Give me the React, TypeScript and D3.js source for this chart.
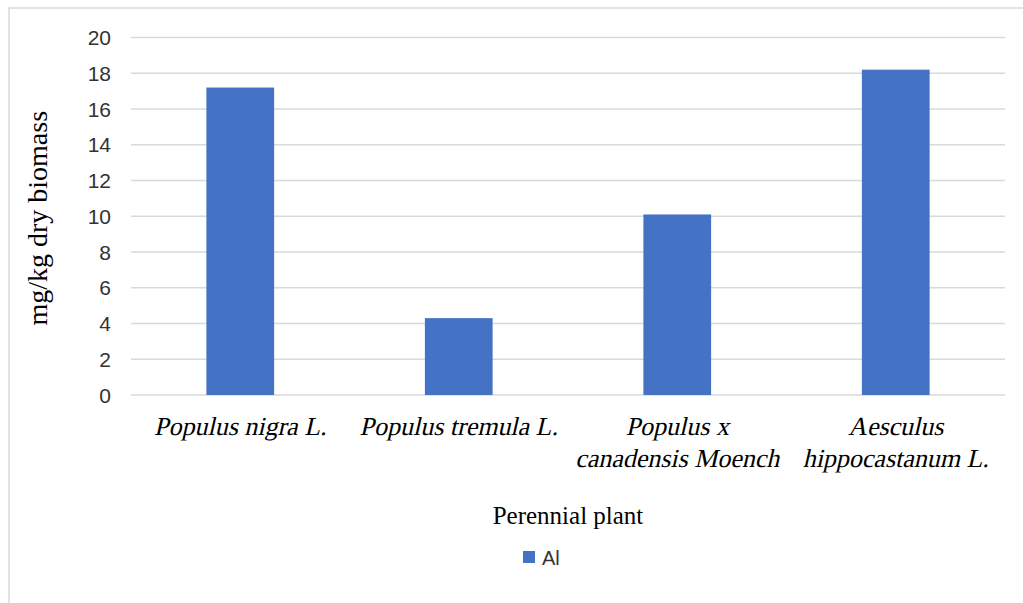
import React from 'react';
import * as d3 from 'd3';

const categories = [
  ['Populus nigra L.'],
  ['Populus tremula L.'],
  ['Populus x', 'canadensis Moench'],
  ['Aesculus', 'hippocastanum L.'],
];
const alValues = [17.2, 4.3, 10.1, 18.2];
const yTicks = [0, 2, 4, 6, 8, 10, 12, 14, 16, 18, 20];
const seriesName = 'Al';

const width = 1023;
const height = 603;
const margin = { top: 37.5, right: 18, bottom: 208, left: 131 };

const serif = "'Liberation Serif', 'Times New Roman', serif";
const sans = "'Liberation Sans', Arial, sans-serif";

const App: React.FC = () => {
  const x = d3.scaleBand<number>()
    .domain(d3.range(categories.length))
    .range([margin.left, width - margin.right])
    .paddingInner(0.69)
    .paddingOuter(0.345);

  const y = d3.scaleLinear()
    .domain([0, 20])
    .range([height - margin.bottom, margin.top]);

  const barColor = '#4472C4';
  const band = x.step();

  return (
    <svg
      width={width}
      height={height}
      viewBox={`0 0 ${width} ${height}`}
      style={{ position: 'absolute', left: 0, top: 0, background: '#fff' }}
    >
      <rect x={9} y={8} width={width + 10} height={height + 10} fill="#fff" stroke="#d9d9d9" strokeWidth={1.5} />

      {yTicks.map(t => (
        <g key={t}>
          <line
            x1={margin.left}
            x2={width - margin.right}
            y1={y(t)}
            y2={y(t)}
            stroke="#d9d9d9"
            strokeWidth={1.5}
          />
          <text
            x={111}
            y={y(t)}
            dy="0.36em"
            textAnchor="end"
            fontFamily={sans}
            fontSize={21}
            fill="#333"
          >
            {t}
          </text>
        </g>
      ))}

      {alValues.map((v, i) => (
        <rect
          key={i}
          x={x(i)}
          y={y(v)}
          width={x.bandwidth()}
          height={y(0) - y(v)}
          fill={barColor}
        />
      ))}

      {/* italic serif faked with a skew so the glyphs stay Times-like */}
      {categories.map((lines, i) => {
        const cx = (x(i) ?? 0) + x.bandwidth() / 2;
        return lines.map((l, j) => (
          <text
            key={`${i}-${j}`}
            transform={`translate(${cx},${435 + j * 32}) skewX(-13)`}
            textAnchor="middle"
            fontFamily={serif}
            fontSize={26}
            fill="#000"
          >
            {l}
          </text>
        ));
      })}

      <text
        transform={`translate(47,${(y(0) + y(20)) / 2 + 2}) rotate(-90)`}
        textAnchor="middle"
        fontFamily={serif}
        fontSize={28}
        fill="#000"
      >
        mg/kg dry biomass
      </text>

      <text
        x={margin.left + 2 * band}
        y={524}
        textAnchor="middle"
        fontFamily={serif}
        fontSize={25}
        fill="#000"
      >
        Perennial plant
      </text>

      <rect x={523} y={551} width={12} height={12} fill={barColor} />
      <text
        x={542}
        y={565}
        fontFamily={sans}
        fontSize={20}
        fill="#333"
      >
        {seriesName}
      </text>
    </svg>
  );
};

export default App;
